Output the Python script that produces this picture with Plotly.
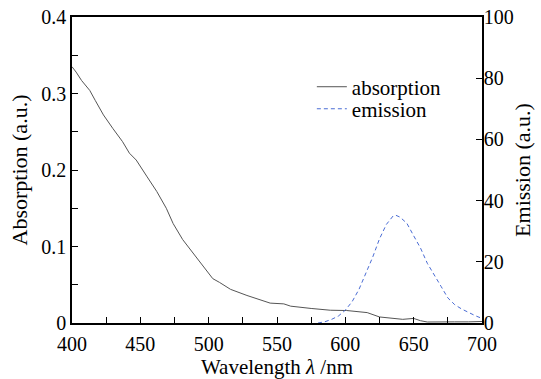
import plotly.graph_objects as go

# Absorption spectrum
wl_abs = [400, 403, 407, 413, 417, 423, 430, 437, 442, 447, 455, 462, 469, 474, 481,
          489, 496, 503, 508, 516, 528, 545, 555, 560, 575, 589, 601, 610, 616, 625,
          633, 642, 650, 655, 660, 670, 680, 690, 700]
absorption = [0.335, 0.328, 0.317, 0.304, 0.291, 0.272, 0.254, 0.237, 0.222, 0.213,
              0.191, 0.172, 0.150, 0.130, 0.109, 0.091, 0.074, 0.058, 0.053, 0.044,
              0.036, 0.026, 0.025, 0.022, 0.019, 0.0167, 0.0163, 0.015, 0.0136, 0.0079,
              0.006, 0.0048, 0.006, 0.003, 0.0013, 0.001, 0.0015, 0.0015, 0.002]

# Emission spectrum
wl_em = [580, 585, 590, 595, 600, 605, 610, 615, 620, 625, 630, 635, 637, 640, 645,
         650, 655, 660, 665, 670, 675, 680, 685, 690, 695, 700]
emission = [0, 0.4, 1.2, 2.3, 4.2, 7, 11, 16, 21.5, 27.5, 32.2, 35, 35.2, 34.6, 32.6,
            28.5, 24.5, 19.5, 15.5, 12, 8.2, 6.0, 4.6, 3.4, 2.4, 1.5]

x_ticks = [400, 450, 500, 550, 600, 650, 700]
y_ticks = [0, 0.1, 0.2, 0.3, 0.4]
y_ticktext = ["0", "0.1", "0.2", "0.3", "0.4"]
y2_ticks = [0, 20, 40, 60, 80, 100]

FONT = "Liberation Serif, Times New Roman, serif"
FS = 20

fig = go.Figure()
fig.add_trace(go.Scatter(x=wl_abs, y=absorption, name="absorption", mode="lines",
                         legend="legend",
                         line=dict(color="#555555", width=1)))
fig.add_trace(go.Scatter(x=wl_em, y=emission, name="emission", mode="lines", yaxis="y2",
                         legend="legend2",
                         line=dict(color="#4a6cd4", width=1, dash="4px,3px")))

axis_common = dict(showline=True, linecolor="black", linewidth=1.5, ticks="inside",
                   tickcolor="black", tickwidth=1.2, ticklen=6, showgrid=False,
                   zeroline=False, automargin=False,
                   tickfont=dict(family=FONT, size=FS, color="black"))

leg_common = dict(xanchor="left", yanchor="middle", bgcolor="rgba(0,0,0,0)",
                  font=dict(family=FONT, size=21))

fig.update_layout(
    width=541, height=379,
    margin=dict(l=72, r=59, t=17, b=56),
    paper_bgcolor="white", plot_bgcolor="white",
    font=dict(family=FONT, size=FS, color="black"),
    showlegend=True,
    legend=dict(x=0.585, y=0.771, **leg_common),
    legend2=dict(x=0.585, y=0.699, **leg_common),
    xaxis=dict(range=[400, 700], tickvals=x_ticks, mirror=True,
               ticklabelstandoff=2,
               minor=dict(dtick=25, ticks="inside", ticklen=6, tickcolor="black"),
               title=dict(text="Wavelength <i>λ</i> /nm", standoff=7,
                          font=dict(family=FONT, size=21)),
               **axis_common),
    yaxis=dict(range=[0, 0.4], tickvals=y_ticks, ticktext=y_ticktext,
               minor=dict(dtick=0.05, ticks="inside", ticklen=6, tickcolor="black"),
               title=dict(text="Absorption (a.u.)", standoff=8,
                          font=dict(family=FONT, size=22)),
               **axis_common),
    yaxis2=dict(range=[0, 100], tickvals=y2_ticks, overlaying="y", side="right",
                ticklabelstandoff=-4,
                title=dict(text="Emission (a.u.)", standoff=2,
                           font=dict(family=FONT, size=22)),
                **axis_common),
)

fig.write_html("out.html")
